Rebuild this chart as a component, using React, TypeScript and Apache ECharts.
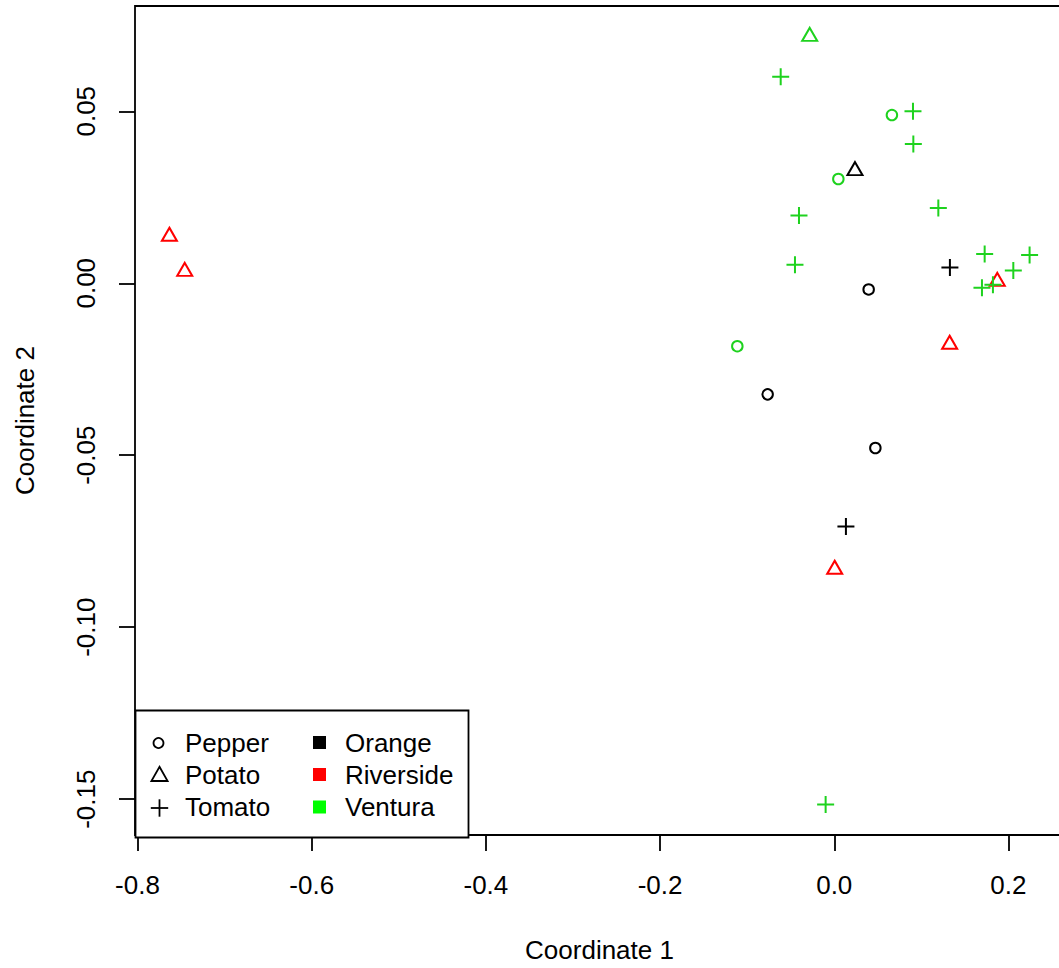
import React, { useEffect, useRef } from "react";
import * as echarts from "echarts";

// ---- data ----
const crops = ["Pepper", "Potato", "Tomato"];
const sites = ["Orange", "Riverside", "Ventura"];

// each point: coordinate 1, coordinate 2, crop index, site index
const coord1 = [
  0.0395, -0.0765, 0.0472, 0.0238, 0.1328, 0.0134,
  0.1872, 0.1325, 0.0005, -0.7634, -0.7458,
  0.0662, 0.0047, -0.1113, -0.0282,
  -0.0615, 0.0904, 0.0908, -0.0405, 0.1195, -0.0451, 0.1727, 0.2243, 0.2056, 0.1696, 0.1822, -0.0099,
];
const coord2 = [
  -0.0018, -0.0323, -0.0479, 0.0327, 0.0046, -0.0707,
  0.0005, -0.0178, -0.0832, 0.0136, 0.0034,
  0.0489, 0.0303, -0.0183, 0.0717,
  0.06, 0.05, 0.0405, 0.0197, 0.0219, 0.0054, 0.0085, 0.0082, 0.0037, -0.0013, -0.0004, -0.1515,
];
const pointCrop = [
  0, 0, 0, 1, 2, 2,
  1, 1, 1, 1, 1,
  0, 0, 0, 1,
  2, 2, 2, 2, 2, 2, 2, 2, 2, 2, 2, 2,
];
const pointSite = [
  0, 0, 0, 0, 0, 0,
  1, 1, 1, 1, 1,
  2, 2, 2, 2,
  2, 2, 2, 2, 2, 2, 2, 2, 2, 2, 2, 2,
];

const xTicks = [-0.8, -0.6, -0.4, -0.2, 0, 0.2];
const xTickLabels = ["-0.8", "-0.6", "-0.4", "-0.2", "0.0", "0.2"];
const yTicks = [-0.15, -0.1, -0.05, 0, 0.05];
const yTickLabels = ["-0.15", "-0.10", "-0.05", "0.00", "0.05"];

const xRange = [-0.8029, 0.2638];
const yRange = [-0.1604, 0.0806];

// ---- styles ----
const siteColors = ["#000000", "#ff0000", "#1ed21e"];
const legendSquareColors = ["#000000", "#ff0000", "#00ff00"];
const FONT = "'Liberation Sans', Arial, Helvetica, sans-serif";
const FS = 26;
const LW = 2;
const BW = 1.8;

const cropSymbols: any[] = [
  { symbol: "circle", symbolSize: 10.5, symbolOffset: [0, 0] },
  { symbol: "triangle", symbolSize: [15, 13], symbolOffset: [0, -2.2] },
  { symbol: "path://M0,8 L16,8 M8,0 L8,16", symbolSize: 17, symbolOffset: [0, 0] },
];

function labelFor(ticks: number[], labels: string[], v: number) {
  let best = 0;
  for (let i = 1; i < ticks.length; i++) {
    if (Math.abs(ticks[i] - v) < Math.abs(ticks[best] - v)) best = i;
  }
  return labels[best];
}

export default function App() {
  const ref = useRef<HTMLDivElement>(null);

  useEffect(() => {
    if (!ref.current) return;
    const chart = echarts.init(ref.current, null, { renderer: "svg" });

    const series = crops.map((c, ci) => ({
      type: "scatter",
      name: c,
      symbol: cropSymbols[ci].symbol,
      symbolSize: cropSymbols[ci].symbolSize,
      symbolOffset: cropSymbols[ci].symbolOffset,
      silent: true,
      emphasis: { disabled: true },
      itemStyle: { color: "transparent", borderWidth: LW, opacity: 1 },
      data: coord1
        .map((x, i) => ({ i, x }))
        .filter((p) => pointCrop[p.i] === ci)
        .map((p) => ({
          value: [coord1[p.i], coord2[p.i]],
          itemStyle: { borderColor: siteColors[pointSite[p.i]] },
        })),
    }));

    const legendRows = [742.5, 774.5, 807];
    const graphic: any[] = [
      {
        type: "rect",
        z: 100,
        shape: { x: 135.5, y: 710.5, width: 333, height: 127 },
        style: { fill: "#ffffff", stroke: "#000000", lineWidth: BW },
      },
      {
        type: "circle",
        z: 101,
        shape: { cx: 158.5, cy: 743, r: 5 },
        style: { fill: "none", stroke: "#000000", lineWidth: BW },
      },
      {
        type: "polygon",
        z: 101,
        shape: { points: [[159.5, 766.8], [167.6, 781], [151.4, 781]] },
        style: { fill: "none", stroke: "#000000", lineWidth: BW },
      },
      {
        type: "line",
        z: 101,
        shape: { x1: 150.8, y1: 808, x2: 168.2, y2: 808 },
        style: { stroke: "#000000", lineWidth: BW },
      },
      {
        type: "line",
        z: 101,
        shape: { x1: 159.5, y1: 799.3, x2: 159.5, y2: 816.7 },
        style: { stroke: "#000000", lineWidth: BW },
      },
    ];
    crops.forEach((c, i) => {
      graphic.push({
        type: "text",
        z: 101,
        x: 185,
        y: legendRows[i],
        style: {
          text: c,
          font: `${FS}px ${FONT}`,
          fill: "#000000",
          textAlign: "left",
          textVerticalAlign: "middle",
        },
      });
    });
    sites.forEach((s, i) => {
      graphic.push({
        type: "rect",
        z: 101,
        shape: { x: 313, y: legendRows[i] - 6.5, width: 13, height: 13 },
        style: { fill: legendSquareColors[i], stroke: "none" },
      });
      graphic.push({
        type: "text",
        z: 101,
        x: 345,
        y: legendRows[i],
        style: {
          text: s,
          font: `${FS}px ${FONT}`,
          fill: "#000000",
          textAlign: "left",
          textVerticalAlign: "middle",
        },
      });
    });

    chart.setOption({
      animation: false,
      backgroundColor: "#ffffff",
      grid: {
        left: 135,
        top: 6,
        right: 1,
        bottom: 130,
        show: true,
        borderColor: "#000000",
        borderWidth: BW,
        backgroundColor: "transparent",
        containLabel: false,
      },
      xAxis: {
        type: "value",
        min: xRange[0],
        max: xRange[1],
        name: "Coordinate 1",
        nameLocation: "middle",
        nameGap: 102,
        nameTextStyle: { fontFamily: FONT, fontSize: FS, color: "#000000" },
        axisLine: { show: false, onZero: false },
        axisTick: {
          show: true,
          inside: false,
          length: 16,
          customValues: xTicks,
          lineStyle: { color: "#000000", width: BW },
        },
        axisLabel: {
          show: true,
          customValues: xTicks,
          margin: 37,
          fontFamily: FONT,
          fontSize: FS,
          color: "#000000",
          formatter: (v: number) => labelFor(xTicks, xTickLabels, v),
        },
        splitLine: { show: false },
      },
      yAxis: {
        type: "value",
        min: yRange[0],
        max: yRange[1],
        name: "Coordinate 2",
        nameLocation: "middle",
        nameGap: 97,
        nameRotate: 90,
        nameTextStyle: { fontFamily: FONT, fontSize: FS, color: "#000000" },
        axisLine: { show: false, onZero: false },
        axisTick: {
          show: true,
          inside: false,
          length: 16,
          customValues: yTicks,
          lineStyle: { color: "#000000", width: BW },
        },
        axisLabel: {
          show: true,
          customValues: yTicks,
          rotate: 90,
          margin: 36,
          fontFamily: FONT,
          fontSize: FS,
          color: "#000000",
          formatter: (v: number) => labelFor(yTicks, yTickLabels, v),
        },
        splitLine: { show: false },
      },
      series,
      graphic,
    } as any);

    return () => {
      chart.dispose();
    };
  }, []);

  return (
    <div
      style={{
        position: "absolute",
        left: 0,
        top: 0,
        width: 1059,
        height: 968,
        overflow: "hidden",
        background: "#ffffff",
      }}
    >
      <div ref={ref} style={{ width: 1065, height: 968 }} />
    </div>
  );
}
